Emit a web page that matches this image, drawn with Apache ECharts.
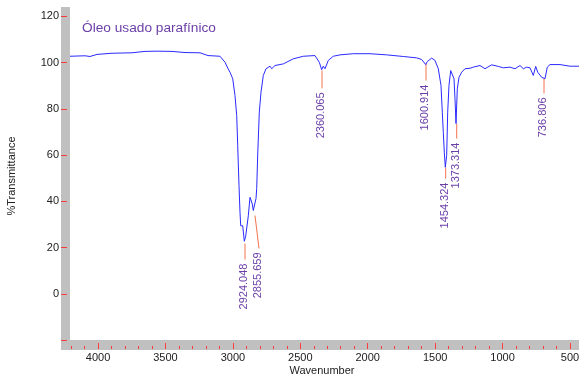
<!DOCTYPE html>
<html>
<head>
<meta charset="utf-8">
<script src="https://cdn.jsdelivr.net/npm/echarts@6/dist/echarts.min.js"></script>
<style>html,body{margin:0;padding:0;background:#fff}#c{width:579px;height:381px}</style>
</head>
<body>
<div id="c"></div>
<script>
var chartTitle = 'Óleo usado parafínico';
var xAxisName = 'Wavenumber';
var yAxisName = '%Transmittance';

var wavenumbers = [4208, 4200.6, 4096.8, 4059.7, 4007.8, 3896.5, 3748.2, 3651.8, 3562.8, 3451.5, 3355.1, 3243.8, 3184.5, 3095.5, 3058.4, 3036.2, 3021.3, 3001.3, 2984.3, 2971.6, 2964.2, 2954.6, 2947.2, 2942.0, 2927.1, 2915.3, 2904.9, 2885.6, 2873.0, 2863.4, 2856.0, 2848.5, 2835.9, 2828.5, 2823.3, 2815.9, 2804.0, 2791.4, 2774.4, 2754.3, 2724.7, 2712.1, 2687.6, 2626.0, 2551.9, 2477.7, 2391.1, 2359.1, 2341.3, 2329.6, 2316.8, 2292.3, 2255.3, 2205.5, 2106.9, 1983.0, 1859.1, 1736.0, 1636.6, 1599.6, 1587.8, 1569.9, 1558.1, 1525.5, 1501.1, 1476.5, 1456.5, 1446.8, 1439.4, 1432.0, 1424.6, 1414.3, 1406.8, 1397.2, 1384.6, 1372.7, 1360.0, 1352.6, 1345.2, 1335.6, 1323.0, 1303.0, 1278.5, 1241.4, 1216.9, 1167.2, 1130.1, 1080.4, 1031.4, 994.4, 944.7, 907.6, 870.5, 846.0, 820.8, 796.3, 771.9, 754.1, 739.2, 709.6, 685.1, 668.0, 648.0, 573.9, 499.8, 433];
var transmittance = [102.7, 102.7, 102.9, 102.6, 103.5, 104.0, 104.2, 104.8, 104.9, 104.8, 104.3, 104.2, 103.0, 102.7, 100.1, 97.4, 95.8, 93.0, 85.7, 77.1, 64.1, 46.8, 35.3, 29.4, 29.4, 22.7, 24.9, 33.7, 41.7, 42.4, 38.8, 36.0, 35.3, 41.2, 45.5, 60.0, 78.5, 87.2, 94.4, 97.3, 98.4, 97.3, 98.7, 99.4, 101.6, 102.7, 103.0, 100.1, 96.9, 98.4, 97.3, 100.9, 102.7, 103.3, 103.8, 103.8, 103.3, 102.6, 102.0, 101.3, 100.9, 99.1, 100.4, 101.9, 100.9, 97.3, 90.1, 78.5, 69.8, 61.2, 54.7, 59.8, 78.5, 90.1, 96.5, 96.9, 93.0, 84.3, 73.6, 88.6, 93.6, 95.8, 97.3, 97.5, 98.0, 98.7, 97.3, 99.0, 98.3, 97.7, 98.0, 97.3, 98.7, 97.3, 98.0, 97.7, 94.4, 98.3, 95.8, 93.6, 93.0, 98.0, 99.1, 99.1, 98.4, 98.4];

var peakLabels = ['2924.048', '2855.659', '2360.065', '1600.914', '1454.324', '1373.314', '736.806'];
var peakWn = [2910.1, 2835.9, 2339.0, 1567.7, 1421.6, 1340.0, 692.5];
var peakT = [21.7, 33.8, 96.5, 99.6, 54.6, 73.6, 93.1];
var labelWn = [2910.1, 2806.3, 2339.0, 1567.7, 1421.6, 1340.0, 692.5];
var labelT = [14.8, 19.6, 88.8, 92.2, 49.8, 67.1, 86.6];

var xMajorTicks = [4000, 3500, 3000, 2500, 2000, 1500, 1000, 500];
var xMinorTicks = [];
for (var v = 4200; v >= 500; v -= 100) xMinorTicks.push(v);
var xTickLabels = [4000, 3500, 3000, 2500, 2000, 1500, 1000, 500];
var yTicks = [-20, 0, 20, 40, 60, 80, 100, 120];
var yTickLabels = [0, 20, 40, 60, 80, 100, 120];

var xMin = 433, xMax = 4208, yMin = -20, yMax = 124;

var FONT = 'Liberation Sans, Arial, sans-serif';
var PURPLE = '#6b3fa8';
var RED = '#ff3b3b';
var GRAY = '#c0c0c0';

var spectrum = wavenumbers.map(function (w, i) { return [w, transmittance[i]]; });
var peaks = peakWn.map(function (w, i) { return [w, peakT[i], labelWn[i], labelT[i]]; });
var plain = function (v) { return String(v); };

var chart = echarts.init(document.getElementById('c'), null, { renderer: 'canvas' });
chart.setOption({
  animation: false,
  backgroundColor: '#fff',
  title: {
    text: chartTitle, left: 82, top: 21, padding: 0,
    textStyle: { color: PURPLE, fontSize: 13.7, fontWeight: 'normal', fontFamily: FONT }
  },
  graphic: [
    { type: 'rect', z: -10, shape: { x: 61, y: 7, width: 9, height: 343 }, style: { fill: GRAY } },
    { type: 'rect', z: -10, shape: { x: 61, y: 340, width: 518, height: 10 }, style: { fill: GRAY } },
    { type: 'text', x: 12, y: 176, rotation: Math.PI / 2,
      style: { text: yAxisName, align: 'center', verticalAlign: 'middle', fill: '#222', font: '11px ' + FONT } },
    { type: 'text', x: 322, y: 371,
      style: { text: xAxisName, align: 'center', verticalAlign: 'middle', fill: '#222', font: '11px ' + FONT } }
  ],
  grid: { left: 70, right: 0, top: 7, bottom: 41, containLabel: false, outerBoundsMode: 'none' },
  xAxis: [
    {
      type: 'value', min: xMin, max: xMax, inverse: true, position: 'bottom', offset: 9,
      axisLine: { show: false, onZero: false },
      splitLine: { show: false },
      axisTick: { show: true, inside: true, length: 6, lineStyle: { color: RED, width: 1 }, customValues: xMajorTicks },
      axisLabel: { show: true, customValues: xTickLabels, formatter: plain, margin: 3, color: '#222', fontSize: 11, fontFamily: FONT }
    },
    {
      type: 'value', min: xMin, max: xMax, inverse: true, position: 'bottom', offset: 9,
      axisLine: { show: false, onZero: false },
      splitLine: { show: false },
      axisTick: { show: true, inside: true, length: 3, lineStyle: { color: RED, width: 1 }, customValues: xMinorTicks },
      axisLabel: { show: false, customValues: xMinorTicks }
    }
  ],
  yAxis: {
    type: 'value', min: yMin, max: yMax, position: 'left', offset: 9,
    axisLine: { show: false, onZero: false },
    splitLine: { show: false },
    axisTick: { show: true, inside: true, length: 6, lineStyle: { color: RED, width: 1 }, customValues: yTicks },
    axisLabel: { show: true, customValues: yTickLabels, formatter: plain, margin: 2, color: '#222', fontSize: 11, fontFamily: FONT }
  },
  series: [
    {
      type: 'line', data: spectrum, showSymbol: false, symbol: 'none', silent: true,
      lineStyle: { color: '#2a2aff', width: 1 }, clip: true
    },
    {
      type: 'custom', data: peaks, clip: false, silent: true,
      encode: { x: [0, 2], y: [1, 3] },
      renderItem: function (params, api) {
        var p1 = api.coord([api.value(0), api.value(1)]);
        var p2 = api.coord([api.value(2), api.value(3)]);
        return {
          type: 'group',
          children: [
            { type: 'line', shape: { x1: p1[0], y1: p1[1], x2: p2[0], y2: p2[1] },
              style: { stroke: '#f4734f', lineWidth: 1 } },
            { type: 'text', x: p2[0] - 1, y: p2[1] + 4, rotation: Math.PI / 2,
              style: { text: peakLabels[params.dataIndex], align: 'right', verticalAlign: 'middle',
                       fill: PURPLE, font: '11px ' + FONT } }
          ]
        };
      }
    }
  ]
});
</script>
</body>
</html>
